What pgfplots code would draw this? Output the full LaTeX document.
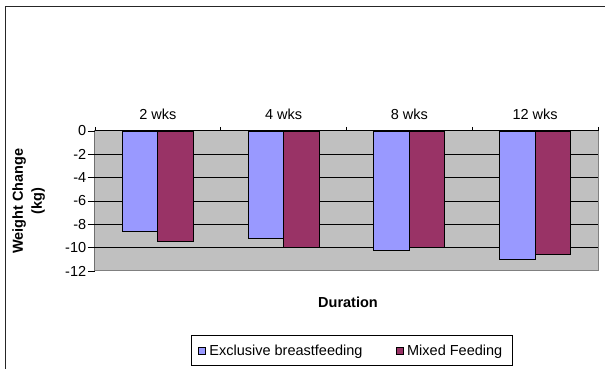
\documentclass[border=0pt]{standalone}
\usepackage{fontspec}
\setmainfont{Liberation Sans}
\usepackage{pgfplots}
\pgfplotsset{compat=1.18}
\definecolor{exbf}{HTML}{9999FF}
\definecolor{mixf}{HTML}{993366}
\definecolor{plotgray}{HTML}{C0C0C0}
\definecolor{bordergray}{HTML}{808080}
\begin{document}
\begin{tikzpicture}[x=1pt,y=1pt]
\useasboundingbox (0,0) rectangle (605,369);
\draw[line width=1.3pt, black!85] (5.5,-1) -- (5.5,362.5) -- (607,362.5);
\begin{axis}[
  at={(95pt,98pt)}, anchor=south west, scale only axis,
  width=503pt, height=140pt,
  xmin=-0.5, xmax=3.5, ymin=-12, ymax=0,
  ybar=0pt, bar width=35.5pt,
  axis line style={draw=none},
  axis background/.style={fill=plotgray, draw=bordergray, line width=1pt},
  ytick={-12,-10,...,0}, yticklabels={-12,-10,-8,-6,-4,-2,0},
  extra y ticks={-10,-8,-6,-4,-2}, extra y tick labels={},
  extra y tick style={ymajorgrids=true, major grid style={black, line width=0.7pt}},
  xtick={-0.5,0.5,1.5,2.5,3.5}, x tick label as interval,
  xticklabels={2 wks,4 wks,8 wks,12 wks},
  xtick pos=right, xticklabel pos=right, ytick pos=left,
  tick align=outside,
  xtick style={/pgfplots/major tick length=4pt, black, line width=0.8pt},
  ytick style={/pgfplots/major tick length=7pt, black, line width=0.8pt},
  every tick label/.append style={font=\fontsize{14.5}{16}\selectfont},
  yticklabel style={xshift=-1pt},
  xticklabel style={yshift=4pt},
  xlabel={Duration},
  xlabel style={at={(axis description cs:0.503,-0.221)}, anchor=center, font=\bfseries\fontsize{14.5}{16}\selectfont},
  ylabel={Weight Change\\(kg)},
  ylabel style={at={(axis description cs:-0.132,0.5)}, anchor=center, align=center, font=\bfseries\fontsize{14.5}{19}\selectfont},
  legend style={at={(axis description cs:0.511,-0.568)}, anchor=center, legend columns=2, draw=black, line width=0.8pt, font=\fontsize{14.5}{16}\selectfont, inner xsep=6pt, inner ysep=7pt, cells={anchor=west}},
  legend image code/.code={\draw[#1, draw=black, line width=0.6pt] (0pt,-3.5pt) rectangle (7pt,3.5pt);},
]
\addplot[fill=exbf, draw=black, line width=0.8pt] coordinates {(0,-8.6) (1,-9.2) (2,-10.2) (3,-11.0)};
\addlegendentry{\hspace*{2pt}Exclusive breastfeeding\hspace*{31pt}}
\addplot[fill=mixf, draw=black, line width=0.8pt] coordinates {(0,-9.5) (1,-10.0) (2,-10.0) (3,-10.6)};
\addlegendentry{\hspace*{2pt}Mixed Feeding\hspace*{2pt}}
\draw[black, line width=1pt] (rel axis cs:0,0) -- (rel axis cs:0,1) -- (rel axis cs:1,1);
\end{axis}
\end{tikzpicture}
\end{document}
